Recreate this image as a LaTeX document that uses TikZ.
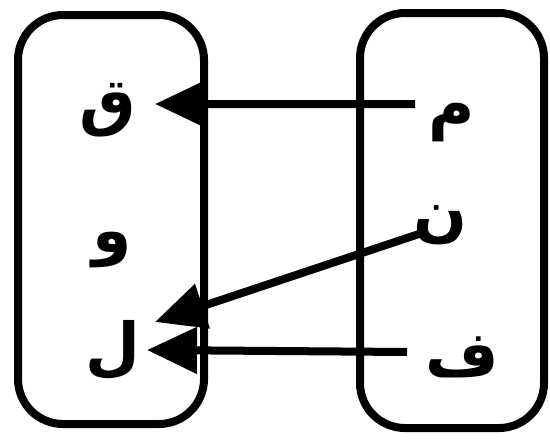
\documentclass[tikz,border=0pt]{standalone}
\usepackage{fontspec}
\newfontfamily\arabicfont[Script=Arabic]{DejaVu Sans}
\TeXXeTstate=1
\usetikzlibrary{arrows.meta, calc}

\begin{document}
\begin{tikzpicture}[>={Triangle[length=1cm, width=0.9cm]}, line width=0.16cm, every node/.style={font=\arabicfont\bfseries\fontsize{36}{43}\selectfont, inner sep=0pt}]
  \useasboundingbox (0,0) rectangle (11,8.82);
  % the two sets
  \node[draw, rounded corners=0.9cm, minimum width=3.72cm, minimum height=8.18cm] (codomain) at (2.22,4.43) {};
  \node[draw, rounded corners=0.9cm, minimum width=3.68cm, minimum height=8.3cm] (domain) at (9.04,4.41) {};
  % letters
  \node (qaf) at (2.16,6.62) {\beginR ق\endR};
  \node (waw) at (2.24,3.82) {\beginR و\endR};
  \node (lam) at (2.26,1.82) {\beginR ل\endR};
  \node (mim) at (9.04,6.36) {\beginR م\endR};
  \node (nun) at (8.80,4.32) {\beginR ن\endR};
  \node (fa) at (9.24,1.68) {\beginR ف\endR};
  % mapping
  \draw[->] ($(mim.center)+(-0.74,0.38)$) -- ($(qaf.center)+(0.94,0.12)$);
  \draw[->] ($(nun.center)+(-0.36,-0.16)$) -- ($(lam.center)+(0.84,0.56)$);
  \draw[->] ($(fa.center)+(-1.10,0.10)$) -- ($(lam.center)+(0.68,0)$);
\end{tikzpicture}
\end{document}
